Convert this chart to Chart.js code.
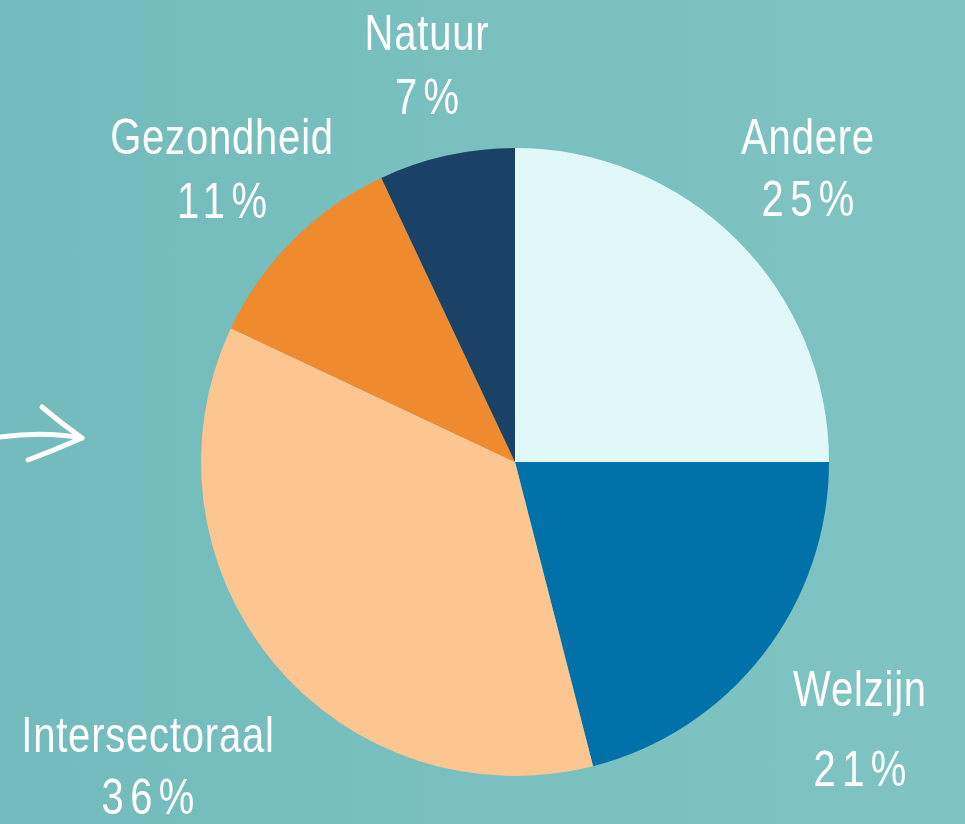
<!DOCTYPE html>
<html>
<head>
<meta charset="utf-8">
<script src="https://cdn.jsdelivr.net/npm/chart.js@4.4.1/dist/chart.umd.min.js"></script>
<style>
  html, body { margin: 0; padding: 0; }
  body { width: 965px; height: 824px; overflow: hidden;
         background: linear-gradient(to right, #73bbbc 0%, #78bfbf 40%, #7fc4c2 100%); }
  #wrap { position: relative; width: 965px; height: 824px; }
</style>
</head>
<body>
<div id="wrap"><canvas id="c" width="965" height="824"></canvas></div>
<script>
const categories = ["Andere", "Welzijn", "Intersectoraal", "Gezondheid", "Natuur"];
const values = [25, 21, 36, 11, 7];
const percentLabels = ["25%", "21%", "36%", "11%", "7%"];
const sliceColors = ["#e0f9f8", "#0072a9", "#fdc590", "#ef8a2f", "#1a4266"];

// label anchor positions (name line center, percent line center)
const labelPos = [
  { x: 808, y1: 140, y2: 202 },
  { x: 860, y1: 692, y2: 772 },
  { x: 148, y1: 738, y2: 800 },
  { x: 222, y1: 140, y2: 204 },
  { x: 427, y1: 36,  y2: 100 }
];

const labelPlugin = {
  id: 'labels',
  afterDraw(chart) {
    const ctx = chart.ctx;
    ctx.save();
    ctx.fillStyle = '#ffffff';
    ctx.textAlign = 'center';
    ctx.textBaseline = 'middle';
    ctx.font = '50px "Liberation Sans", Arial, sans-serif';
    const sx = 0.8;
    categories.forEach((name, i) => {
      const p = labelPos[i];
      ctx.save();
      ctx.translate(p.x, 0);
      ctx.scale(sx, 1);
      ctx.letterSpacing = '1px';
      ctx.fillText(name, 0, p.y1);
      ctx.letterSpacing = '8px';
      ctx.fillText(percentLabels[i], 4, p.y2);
      ctx.restore();
    });
    // arrow decoration
    ctx.strokeStyle = '#ffffff';
    ctx.lineWidth = 5;
    ctx.lineCap = 'round';
    ctx.lineJoin = 'round';
    ctx.beginPath();
    ctx.moveTo(0, 437);
    ctx.quadraticCurveTo(45, 431, 82, 438);
    ctx.stroke();
    ctx.beginPath();
    ctx.moveTo(42, 407);
    ctx.quadraticCurveTo(62, 424, 82, 438);
    ctx.quadraticCurveTo(55, 450, 28, 460);
    ctx.stroke();
    ctx.restore();
  }
};

new Chart(document.getElementById('c'), {
  type: 'pie',
  data: {
    labels: categories,
    datasets: [{
      data: values,
      backgroundColor: sliceColors,
      borderWidth: 0
    }]
  },
  options: {
    responsive: false,
    animation: false,
    layout: { padding: { left: 65, right: 0, top: 148, bottom: 48 } },
    plugins: { legend: { display: false }, tooltip: { enabled: false } }
  },
  plugins: [labelPlugin]
});
</script>
</body>
</html>
